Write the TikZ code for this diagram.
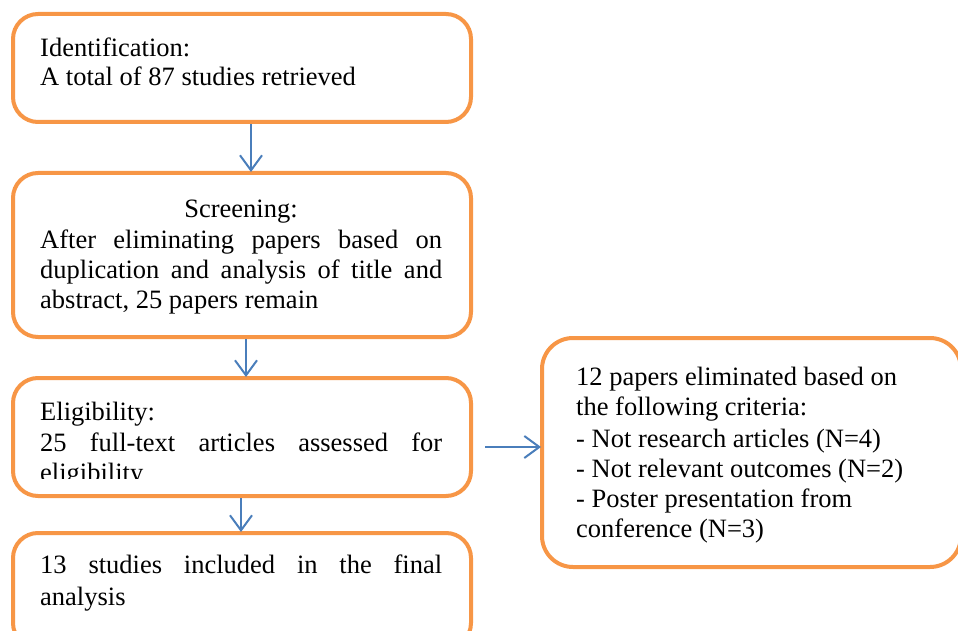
\documentclass[tikz,border=0pt]{standalone}
\usepackage{fontspec}
\setmainfont{Liberation Serif}
\usetikzlibrary{arrows.meta}
\definecolor{boxorange}{HTML}{F79646}
\definecolor{arrowblue}{HTML}{4A7EBB}
\tikzset{
  flowbox/.style={draw=boxorange, line width=4pt, rounded corners=25pt, fill=white},
  flowarrow/.style={draw=arrowblue, line width=2pt, -{Straight Barb[length=15pt,width=22pt,line width=2pt]}},
  txt/.style={anchor=base west, inner sep=0pt, font=\fontsize{26.5}{29.5}\selectfont},
  txtc/.style={anchor=base, inner sep=0pt, font=\fontsize{26.5}{29.5}\selectfont},
}
\newcommand{\jline}[1]{\makebox[402pt][s]{#1}}
\begin{document}
\begin{tikzpicture}[x=1pt,y=-1pt]
\useasboundingbox (0,0) rectangle (958,631);
% boxes
\draw[flowbox] (13,14) rectangle (471,122);
\draw[flowbox] (13,173) rectangle (471,337);
\draw[flowbox] (13,378) rectangle (471,496);
\draw[flowbox] (13,533) rectangle (471,648);
\draw[flowbox, rounded corners=31pt] (542,338) rectangle (961,567);
% invisible anchors for connectors
\coordinate (b1s) at (251,124);
\coordinate (b2n) at (251,172);
\coordinate (b2s) at (246,339);
\coordinate (b3n) at (246,377);
\coordinate (b3s) at (241,498);
\coordinate (b4n) at (241,532);
\coordinate (b3e) at (485,447);
\coordinate (b5w) at (541,447);
% texts
\node[txt] (t1a) at (40,57) {Identification:};
\node[txt] (t1b) at (40,86) {A total of 87 studies retrieved};
\node[txtc] (t2a) at (241,218) {Screening:};
\node[txt] (t2b) at (40,248) {\jline{After eliminating papers based on}};
\node[txt] (t2c) at (40,278) {\jline{duplication and analysis of title and}};
\node[txt] (t2d) at (40,308) {abstract, 25 papers remain};
\node[txt] (t3a) at (40,420) {Eligibility:};
\node[txt] (t3b) at (40,451) {\jline{25 full-text articles assessed for}};
\begin{scope}
\clip (30,455) rectangle (460,478);
\node[txt] (t3c) at (40,481) {eligibility};
\end{scope}
\node[txt] (t4a) at (40,573) {\jline{13 studies included in the final}};
\node[txt] (t4b) at (40,605) {analysis};
\node[txt] (t5a) at (576,385) {12 papers eliminated based on};
\node[txt] (t5b) at (576,415) {the following criteria:};
\node[txt] (t5c) at (576,447) {- Not research articles (N=4)};
\node[txt] (t5d) at (576,477) {- Not relevant outcomes (N=2)};
\node[txt] (t5e) at (576,507) {- Poster presentation from};
\node[txt] (t5f) at (576,537) {conference (N=3)};
% connectors
\draw[flowarrow] (b1s) -- (b2n);
\draw[flowarrow] (b2s) -- (b3n);
\draw[flowarrow] (b3s) -- (b4n);
\draw[flowarrow] (b3e) -- (b5w);
\end{tikzpicture}
\end{document}
